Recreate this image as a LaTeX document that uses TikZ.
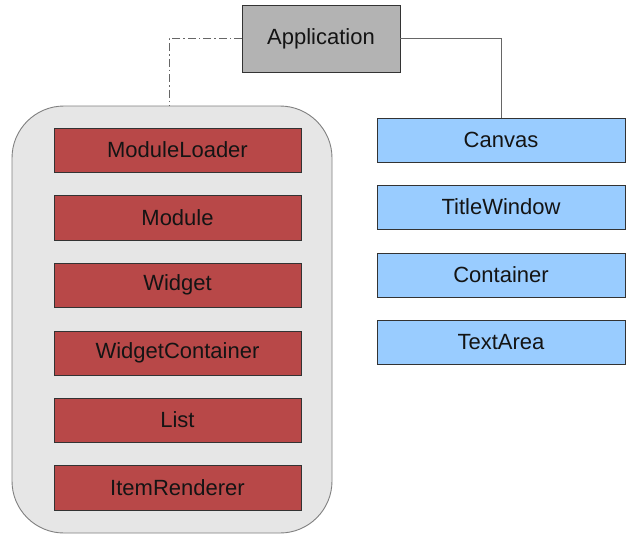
\documentclass[tikz,border=0pt]{standalone}
\usepackage{fontspec}
\setmainfont{Liberation Sans}
\begin{document}
\begin{tikzpicture}[x=1pt,y=-1pt,
  box/.style={draw=black!80,line width=0.9pt,inner sep=0pt},
  redbox/.style={box,fill=redc},
  bluebox/.style={box,fill=bluec},
  lbl/.style={font=\fontsize{22}{25}\selectfont,text=black!92},
  conn/.style={draw=black!60,line width=0.9pt}]
\definecolor{redc}{HTML}{B84848}
\definecolor{bluec}{HTML}{99CCFF}
\definecolor{grayc}{HTML}{B3B3B3}
\definecolor{panel}{HTML}{E6E6E6}
\useasboundingbox[fill=white] (0,0) rectangle (640,542);
% panel
\draw[draw=black!50,fill=panel,line width=0.9pt,rounded corners=52pt] (12,106) rectangle (332,533);
\coordinate (paneltop) at (169,106);
% application
\draw[box,fill=grayc] (242,5) rectangle (400,72);
\node[lbl] (app) at (321,38.5) {Application};
\coordinate (appL) at (242,38.5);
\coordinate (appR) at (400,38.5);
% red boxes
\foreach \n/\t/\a/\b in {ml/ModuleLoader/128/172, mo/Module/195/240, wi/Widget/263/307, wc/WidgetContainer/331/375, li/List/398/442, ir/ItemRenderer/465/510}{
  \draw[redbox] (54,\a) rectangle (301,\b);
  \node[lbl] (\n) at (177.5,{(\a+\b)/2}) {\t};
}
% blue boxes
\foreach \n/\t/\a/\b in {ca/Canvas/118/162, tw/TitleWindow/185/229, co/Container/253/297, ta/TextArea/320/364}{
  \draw[bluebox] (377,\a) rectangle (625,\b);
  \node[lbl] (\n) at (501,{(\a+\b)/2}) {\t};
}
\coordinate (catop) at (501,118);
% connectors
\draw[conn,dash pattern=on 8pt off 3pt on 1.5pt off 3pt] (appL) -- (169,38.5) -- (paneltop);
\draw[conn] (appR) -- (501,38.5) -- (catop);
\end{tikzpicture}
\end{document}
